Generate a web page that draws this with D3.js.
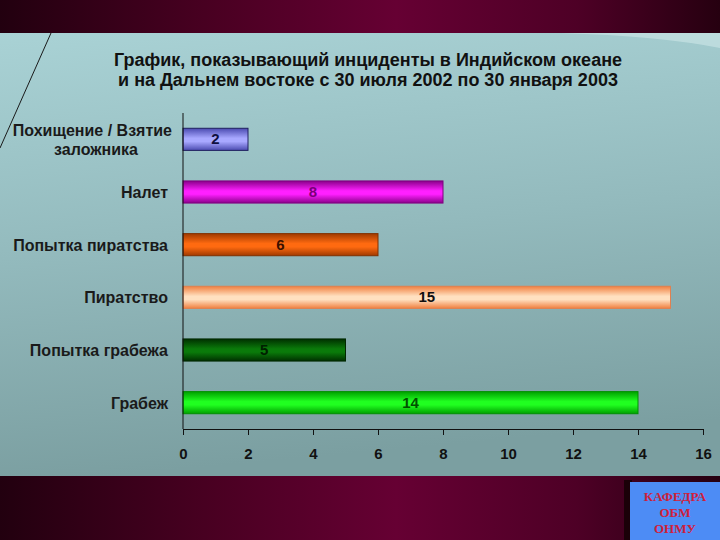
<!DOCTYPE html>
<html><head><meta charset="utf-8">
<script src="https://cdn.jsdelivr.net/npm/d3@7"></script>
<style>html,body{margin:0;padding:0;background:#fff}svg{display:block}</style>
</head><body>
<script>
const categories = ["Похищение / Взятие|заложника","Налет","Попытка пиратства","Пиратство","Попытка грабежа","Грабеж"];
const values = [2, 8, 6, 15, 5, 14];
const ticks = [0, 2, 4, 6, 8, 10, 12, 14, 16];
const titleLines = ["График, показывающий инциденты в Индийском океане","и на Дальнем востоке с 30 июля 2002 по 30 января 2003"];
const barColors = [
  {edge:"#4a4ab0", mid:"#a8a8ff", label:"#101040", stroke:"#202060"},
  {edge:"#8a008a", mid:"#ff20ff", label:"#7a007a", stroke:"#800080"},
  {edge:"#a03a00", mid:"#ff6a10", label:"#3a1000", stroke:"#803000"},
  {edge:"#f08040", mid:"#ffe0c0", label:"#101010", stroke:"#e08050"},
  {edge:"#003000", mid:"#0a7a0a", label:"#002000", stroke:"#002800"},
  {edge:"#00a000", mid:"#20ff20", label:"#005000", stroke:"#009000"}
];
const badge = ["КАФЕДРА","ОБМ","ОНМУ"];

const W=720,H=540;
const svg=d3.select("body").append("svg").attr("width",W).attr("height",H);
const defs=svg.append("defs");

const bandG=defs.append("linearGradient").attr("id","band").attr("x1",0).attr("x2",1);
[[0,"#22000f"],[0.3,"#4a0022"],[0.55,"#660033"],[0.8,"#4e0026"],[1,"#260010"]].forEach(s=>bandG.append("stop").attr("offset",s[0]).attr("stop-color",s[1]));
const midG=defs.append("linearGradient").attr("id","mid").attr("x1",0).attr("y1",0).attr("x2",0.15).attr("y2",1);
[[0,"#a9d2d5"],[0.5,"#93babd"],[1,"#7b9fa1"]].forEach(s=>midG.append("stop").attr("offset",s[0]).attr("stop-color",s[1]));

svg.append("rect").attr("width",W).attr("height",H).attr("fill","url(#band)");
svg.append("rect").attr("x",0).attr("y",33).attr("width",W).attr("height",443).attr("fill","url(#mid)");
svg.append("path").attr("d","M560,33 Q660,36 720,48 L720,33 Z").attr("fill","#c8e2e4").attr("opacity",0.7);
svg.append("line").attr("x1",51).attr("y1",33).attr("x2",0).attr("y2",148).attr("stroke","#1a1a1a").attr("stroke-width",1);

const FONT="Liberation Sans, Arial, sans-serif";
const title=svg.append("g").attr("font-family",FONT).attr("font-weight","bold").attr("font-size",18).attr("fill","#111").attr("text-anchor","middle");
titleLines.forEach((t,i)=>title.append("text").attr("x",368).attr("y",66+i*20).text(t));

const x=d3.scaleLinear().domain([0,16]).range([183,703]);
const y=d3.scaleBand().domain(categories).range([113,429]).paddingInner(0.58).paddingOuter(0.29);

barColors.forEach((c,i)=>{
  const g=defs.append("linearGradient").attr("id","bg"+i).attr("x1",0).attr("y1",0).attr("x2",0).attr("y2",1);
  [[0,c.edge],[0.45,c.mid],[0.6,c.mid],[1,c.edge]].forEach(s=>g.append("stop").attr("offset",s[0]).attr("stop-color",s[1]));
});

const g=svg.append("g");
g.selectAll("rect.bar").data(values).join("rect").attr("class","bar")
  .attr("x",x(0)).attr("y",(d,i)=>y(categories[i])).attr("width",d=>x(d)-x(0)).attr("height",y.bandwidth())
  .attr("fill",(d,i)=>`url(#bg${i})`).attr("stroke",(d,i)=>barColors[i].stroke).attr("stroke-width",1);

g.selectAll("text.val").data(values).join("text").attr("class","val")
  .attr("x",d=>x(d/2)).attr("y",(d,i)=>y(categories[i])+y.bandwidth()/2+5)
  .attr("text-anchor","middle").attr("font-family",FONT).attr("font-weight","bold").attr("font-size",15)
  .attr("fill",(d,i)=>barColors[i].label).text(d=>d);

const xAxis=d3.axisBottom(x).tickValues(ticks).tickSize(6).tickPadding(13).tickFormat(d3.format("d"));
const xa=svg.append("g").attr("transform","translate(0,429)").call(xAxis);
xa.select(".domain").attr("stroke","#111");
xa.selectAll(".tick line").attr("stroke","#111");
xa.selectAll("text").attr("font-family",FONT).attr("font-weight","bold").attr("font-size",15).attr("fill","#111");

const yAxis=d3.axisLeft(y).tickSize(0).tickFormat("");
const ya=svg.append("g").attr("transform","translate(183,0)").call(yAxis);
ya.select(".domain").attr("stroke","#111").attr("d","M0,113V429");

const lab=svg.append("g").attr("font-family",FONT).attr("font-weight","bold").attr("font-size",16).attr("fill","#1a1a1a");
categories.forEach((c,i)=>{
  const cy=y(c)+y.bandwidth()/2;
  const parts=c.split("|");
  if(parts.length===1){
    lab.append("text").attr("x",168).attr("y",cy+6).attr("text-anchor","end").text(parts[0]);
  } else {
    lab.append("text").attr("x",172).attr("y",cy-3).attr("text-anchor","end").text(parts[0]);
    lab.append("text").attr("x",96).attr("y",cy+16).attr("text-anchor","middle").text(parts[1]);
  }
});

svg.append("rect").attr("x",624).attr("y",480).attr("width",8).attr("height",60).attr("fill","#1a0008");
svg.append("rect").attr("x",630).attr("y",482).attr("width",90).attr("height",58).attr("fill","#4d8cf5");
const bt=svg.append("g").attr("font-family","Liberation Serif, Times New Roman, serif").attr("font-weight","bold").attr("font-size",13).attr("fill","#d0203a").attr("text-anchor","middle");
badge.forEach((t,i)=>bt.append("text").attr("x",675).attr("y",501+i*16).text(t));
</script>
</body></html>
